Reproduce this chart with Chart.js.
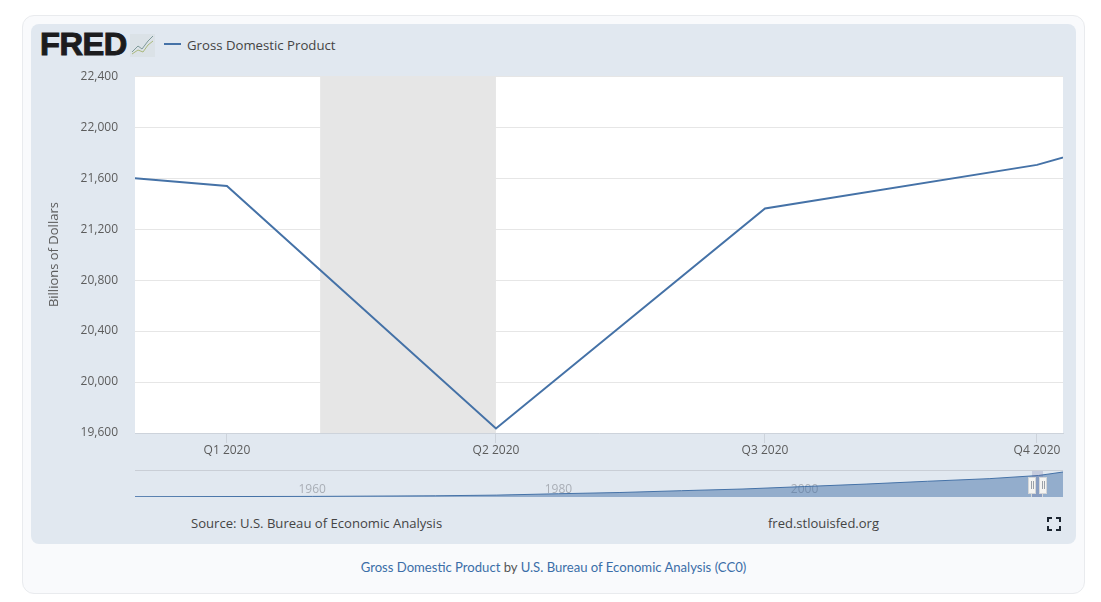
<!DOCTYPE html>
<html>
<head>
<meta charset="utf-8">
<title>Gross Domestic Product</title>
<script src="https://cdn.jsdelivr.net/npm/chart.js@4/dist/chart.umd.min.js"></script>
<style>
    html, body { margin: 0; padding: 0; background: #fff; overflow: hidden; }
    #page { position: relative; width: 1101px; height: 602px; font-family: "Open Sans", sans-serif; }
    #page div, #page svg, #page canvas { position: absolute; }
    #outer { left: 22px; top: 15px; width: 1061px; height: 577px; border: 1px solid #e9ebee; border-radius: 12px; background: #f9fafc; }
    #panel { left: 31px; top: 24px; width: 1045px; height: 520px; border-radius: 8px; background: #e1e8f0; }
    #logo { left: 40px; top: 26px; font: bold 32px "Liberation Sans", sans-serif; color: #1c1c1e; letter-spacing: -0.5px; transform: scaleX(1.02); transform-origin: left top; -webkit-text-stroke: 1px #1c1c1e; }
    #legend-line { left: 164px; top: 43px; width: 17px; height: 2px; background: #4572a7; }
    #legend-text { left: 187px; top: 36px; font-size: 13.2px; color: #444; white-space: nowrap; }
    #source { left: 191px; top: 514px; font-size: 13.1px; color: #444; white-space: nowrap; }
    #site { left: 768px; top: 514px; font-size: 13px; color: #444; white-space: nowrap; }
    #footer { left: 31px; width: 1045px; top: 559px; text-align: center; font: 13.1px Lato, sans-serif; color: #555; }
    #footer span { color: #3b6ea8; }
    #nav-top { left: 135px; top: 470px; width: 928px; height: 1px; background: #c9ced6; }
    #nav-sel { left: 1032px; top: 471px; width: 11px; height: 26px; background: rgba(102,102,153,0.22); }
    .handle { top: 477px; width: 6px; height: 15px; background: #f4f4f2; border: 1px solid #d4d6d8; }
    .stem { top: 492px; width: 1px; height: 5px; background: #d4d6d8; }
    .grip { top: 481px; width: 1px; height: 8px; background: #9aa0a8; }
</style>
</head>
<body>
<div id="page">
    <div id="outer"></div>
    <div id="panel"></div>
    <div id="logo">FRED</div>
    <svg style="left:130px;top:34px" width="25" height="23" viewBox="0 0 25 23">
        <rect x="0" y="0" width="25" height="23" fill="#d5dcdc" opacity="0.45"/>
        <polyline points="2,18 8,12 12,15 18,7 23,2" fill="none" stroke="#7f9a9a" stroke-width="1"/>
        <polyline points="2,20 8,16 13,18 18,11 23,7" fill="none" stroke="#aab97c" stroke-width="1"/>
    </svg>
    <div id="legend-line"></div>
    <div id="legend-text">Gross Domestic Product</div>
    <canvas id="main-canvas" width="1045" height="418" style="left:31px;top:52px"></canvas>
    <canvas id="nav-canvas" width="928" height="30" style="left:135px;top:470px"></canvas>
    <div id="nav-top"></div>
    <div id="nav-sel"></div>
    <div class="stem" style="left:1031px"></div>
    <div class="stem" style="left:1042px"></div>
    <div class="handle" style="left:1028px"></div>
    <div class="handle" style="left:1039px"></div>
    <div class="grip" style="left:1031px"></div>
    <div class="grip" style="left:1033px"></div>
    <div class="grip" style="left:1042px"></div>
    <div class="grip" style="left:1044px"></div>
    <div id="source">Source: U.S. Bureau of Economic Analysis</div>
    <div id="site">fred.stlouisfed.org</div>
    <svg style="left:1047px;top:517px" width="14" height="14" viewBox="0 0 14 14">
        <path d="M1 5V1H5M9 1H13V5M13 9V13H9M5 13H1V9" fill="none" stroke="#1c2530" stroke-width="2"/>
    </svg>
    <div id="footer"><span>Gross Domestic Product</span> by <span>U.S. Bureau of Economic Analysis (CC0)</span></div>
</div>
<script>
"use strict";
// days counted from 1 Jan 2020
const gdpDays = [-92, 0, 91, 182, 274, 366];
const gdpValues = [21720, 21538, 19636, 21362, 21704, 22314];
const tickDays = [0, 91, 182, 274];
const tickLabels = ['Q1 2020', 'Q2 2020', 'Q3 2020', 'Q4 2020'];
const recessionDays = [31.5, 91];
const yMin = 19600;
const yMax = 22400;

const navYears = [1945, 1960, 1970, 1975, 1980, 1985, 1990, 1995, 2000, 2005, 2010, 2015, 2019, 2021];
const navValues = [250, 540, 1070, 1680, 2900, 4000, 5600, 7100, 9300, 11500, 14000, 16300, 19100, 22200];
const navTicks = [1960, 1980, 2000];

const LINE = '#4572a7';

// white plot background
const plotBackground = {
    id: 'plotBackground',
    beforeDraw(chart) {
        let a = chart.chartArea;
        chart.ctx.save();
        chart.ctx.fillStyle = '#fff';
        chart.ctx.fillRect(a.left, a.top, a.right - a.left, a.bottom - a.top);
        chart.ctx.restore();
    }
};

var refreshChart = function () {
    var ctx = document.getElementById('main-canvas');
    new Chart(ctx, {
        type: 'line',
        plugins: [plotBackground],
        data: {
            datasets: [
                {
                    label: 'Gross Domestic Product',
                    data: gdpDays.map((d, i) => ({x: d, y: gdpValues[i]})),
                    borderColor: LINE,
                    borderWidth: 2,
                    pointRadius: 0,
                    tension: 0,
                    fill: false,
                },
                {
                    label: 'Recession',
                    data: recessionDays.map(d => ({x: d, y: yMax})),
                    borderWidth: 0,
                    pointRadius: 0,
                    backgroundColor: '#e6e6e6',
                    fill: 'start',
                },
            ],
        },
        options: {
            responsive: false,
            animation: false,
            layout: {padding: {top: 9, right: 13}},
            plugins: {legend: {display: false}, tooltip: {enabled: false}},
            scales: {
                x: {
                    type: 'linear',
                    min: -31.1,
                    max: 282.8,
                    afterBuildTicks: s => { s.ticks = tickDays.map(v => ({value: v})); },
                    afterFit: s => { s.height = 37; },
                    ticks: {
                        autoSkip: false,
                        maxRotation: 0,
                        color: '#5c5c5c',
                        font: {family: 'Open Sans', size: 12},
                        padding: 0,
                        callback: v => tickLabels[tickDays.indexOf(v)],
                    },
                    grid: {drawOnChartArea: false, tickLength: 10, color: '#cdd3db'},
                    border: {color: '#cdd3db'},
                },
                y: {
                    min: yMin,
                    max: yMax,
                    afterFit: s => { s.width = 104; },
                    ticks: {
                        stepSize: 400,
                        color: '#5c5c5c',
                        padding: 17,
                        font: {family: 'Open Sans', size: 12},
                        callback: v => v.toLocaleString('en-US'),
                    },
                    title: {
                        display: true,
                        text: 'Billions of Dollars',
                        color: '#5c5c5c',
                        font: {family: 'Open Sans', size: 13},
                        padding: {top: 15, bottom: 0},
                    },
                    grid: {color: '#e6e6e6', drawTicks: false},
                    border: {display: false},
                },
            },
        },
    });
};

var refreshNavigator = function () {
    var ctx = document.getElementById('nav-canvas');
    new Chart(ctx, {
        type: 'line',
        data: {
            datasets: [{
                data: navYears.map((y, i) => ({x: y, y: navValues[i]})),
                borderColor: LINE,
                borderWidth: 1,
                pointRadius: 0,
                backgroundColor: 'rgba(69,114,167,0.5)',
                fill: 'start',
            }],
        },
        options: {
            responsive: false,
            animation: false,
            plugins: {legend: {display: false}, tooltip: {enabled: false}},
            scales: {
                x: {
                    type: 'linear',
                    min: 1945.6,
                    max: 2021,
                    afterBuildTicks: s => { s.ticks = navTicks.map(v => ({value: v})); },
                    afterFit: s => { s.height = 3; },
                    ticks: {
                        autoSkip: false,
                        maxRotation: 0,
                        color: '#a9aeb6',
                        font: {family: 'Open Sans', size: 12},
                        mirror: true,
                        padding: 0,
                        callback: v => String(v),
                    },
                    grid: {display: false},
                    border: {display: false},
                },
                y: {
                    display: false,
                    min: 0,
                    max: 24000,
                },
            },
        },
    });
};

refreshChart();
refreshNavigator();
</script>
</body>
</html>
